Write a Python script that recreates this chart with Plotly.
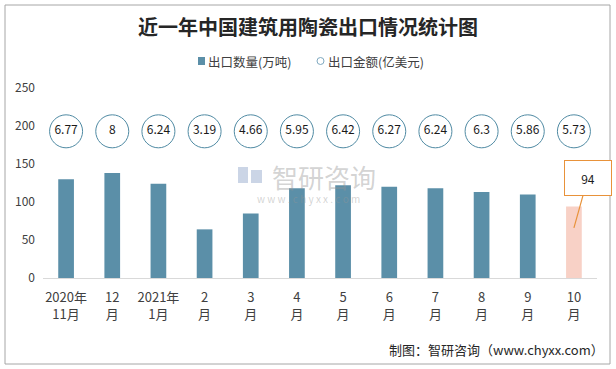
import plotly.graph_objects as go

categories = ["2020年<br>11月", "12<br>月", "2021年<br>1月", "2<br>月", "3<br>月", "4<br>月",
              "5<br>月", "6<br>月", "7<br>月", "8<br>月", "9<br>月", "10<br>月"]
volume = [130, 138, 124, 64, 85, 118, 122, 120, 118, 113, 110, 94]   # 出口数量(万吨)
value = [6.77, 8, 6.24, 3.19, 4.66, 5.95, 6.42, 6.27, 6.24, 6.3, 5.86, 5.73]  # 出口金额(亿美元)
series_names = ["出口数量(万吨)", "出口金额(亿美元)"]

FONT = "Noto Sans CJK SC, Microsoft YaHei, sans-serif"
BAR = "#5b8fa8"
HIGHLIGHT = "#f8d1c6"
CIRCLE = "#4f8aa3"
LABEL_LEVEL = 193  # height of the value bubbles on the left axis

W, H = 616, 369
L, R, T, B = 43, 19, 88, 91
pw, ph = W - L - R, H - T - B

def px(x):
    return (x - L) / pw

def py(y):
    return (H - B - y) / ph

bar_colors = [BAR] * (len(volume) - 1) + [HIGHLIGHT]

fig = go.Figure()
fig.add_trace(go.Bar(x=categories, y=volume, name=series_names[0],
                     marker=dict(color=bar_colors, line=dict(width=0)),
                     width=0.34, showlegend=False, hoverinfo="x+y"))
fig.add_trace(go.Scatter(x=categories, y=[LABEL_LEVEL] * len(value), name=series_names[1],
                         mode="markers+text",
                         text=[f"{v:g}" for v in value], textposition="middle center",
                         textfont=dict(size=12, color="#1a1a1a", family=FONT),
                         marker=dict(size=33, color="white", line=dict(color=CIRCLE, width=1)),
                         showlegend=False, cliponaxis=False, hoverinfo="x+text"))

wm = "rgba(150,150,150,0.42)"
annotations = [
    dict(text="<b>近一年中国建筑用陶瓷出口情况统计图</b>", xref="paper", yref="paper",
         x=px(308), y=py(27), xanchor="center", yanchor="middle", showarrow=False,
         font=dict(size=20, color="#262626", family=FONT)),
    # legend
    dict(text=series_names[0], xref="paper", yref="paper", x=px(206), y=py(61),
         xanchor="left", yanchor="middle", showarrow=False,
         font=dict(size=12.5, color="#404040", family=FONT)),
    dict(text=series_names[1], xref="paper", yref="paper", x=px(326), y=py(61),
         xanchor="left", yanchor="middle", showarrow=False,
         font=dict(size=12.5, color="#404040", family=FONT)),
    dict(text="制图：智研咨询（www.chyxx.com）", xref="paper", yref="paper",
         x=px(606), y=py(349), xanchor="right", yanchor="middle", showarrow=False,
         font=dict(size=13, color="#262626", family=FONT)),
    dict(text="智研咨询", xref="paper", yref="paper", x=px(324), y=py(176),
         xanchor="center", yanchor="middle", showarrow=False,
         font=dict(size=26, color=wm, family=FONT)),
    dict(text="w w w . c h y x x . c o m", xref="paper", yref="paper", x=px(308), y=py(198),
         xanchor="center", yanchor="middle", showarrow=False,
         font=dict(size=10, color=wm, family=FONT)),
    dict(text="94", x=categories[-1], y=volume[-1] - 28, xref="x", yref="y",
         showarrow=True, arrowhead=0, arrowcolor="#e8923a", arrowwidth=1.2,
         ax=14, ay=-50, width=30, height=18, bordercolor="#e8923a", borderwidth=1, borderpad=8,
         bgcolor="white", font=dict(size=12, color="#1a1a1a", family=FONT)),
]

logo = "rgba(160,178,210,0.55)"
shapes = [
    dict(type="rect", xref="paper", yref="paper", x0=px(5), x1=px(610), y0=py(364), y1=py(5),
         line=dict(color="#a6a6a6", width=1), fillcolor="rgba(0,0,0,0)", layer="below"),
    # legend symbols
    dict(type="rect", xref="paper", yref="paper", x0=px(198), x1=px(205), y0=py(65), y1=py(57),
         line=dict(width=0), fillcolor=BAR),
    dict(type="circle", xref="paper", yref="paper", x0=px(317), x1=px(324), y0=py(64.5), y1=py(57.5),
         line=dict(color="#7fa9c0", width=1), fillcolor="white"),
    # watermark logo
    dict(type="rect", xref="paper", yref="paper", x0=px(238), x1=px(248), y0=py(183), y1=py(167),
         line=dict(width=0), fillcolor=logo, layer="below"),
    dict(type="rect", xref="paper", yref="paper", x0=px(251), x1=px(262), y0=py(183), y1=py(170),
         line=dict(width=0), fillcolor=logo, layer="below"),
]

fig.update_layout(
    width=W, height=H, margin=dict(l=L, r=R, t=T, b=B, autoexpand=False),
    paper_bgcolor="white", plot_bgcolor="white",
    font=dict(family=FONT, size=12, color="#404040"),
    barmode="overlay",
    showlegend=False,
    xaxis=dict(type="category", range=[-0.5, len(categories) - 0.5], showgrid=False,
               showline=True, linecolor="#d9d9d9", ticklabelstandoff=7,
               ticks="", tickfont=dict(size=13, color="#404040"), automargin=False),
    yaxis=dict(range=[0, 250], dtick=50, showgrid=False, zeroline=False, showline=False,
               ticklabelstandoff=7,
               ticks="", tickfont=dict(size=12, color="#404040"), automargin=False),
    annotations=annotations, shapes=shapes,
)

fig.write_html("out.html", config={"displayModeBar": False},
               post_script="document.body.style.margin='0';")
